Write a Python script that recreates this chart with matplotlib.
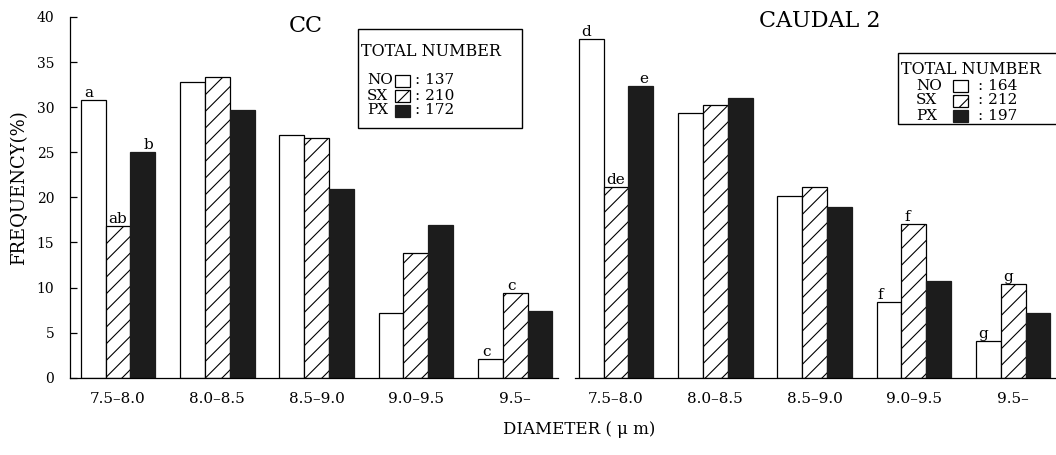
import numpy as np
import matplotlib
matplotlib.use("Agg")
import matplotlib.pyplot as plt
from matplotlib.patches import Rectangle

plt.rcParams['font.family'] = ['DejaVu Serif']
plt.rcParams['hatch.linewidth'] = 0.8

# data
classes = ["7.5–8.0", "8.0–8.5", "8.5–9.0", "9.0–9.5", "9.5–"]
groups = ["NO", "SX", "PX"]

cc_no = [30.8, 32.8, 26.9, 7.2, 2.1]
cc_sx = [16.8, 33.4, 26.6, 13.8, 9.4]
cc_px = [25.0, 29.7, 20.9, 16.9, 7.4]
cc_total = [137, 210, 172]

cd_no = [37.6, 29.4, 20.2, 8.4, 4.1]
cd_sx = [21.2, 30.2, 21.2, 17.1, 10.4]
cd_px = [32.4, 31.0, 18.9, 10.7, 7.2]
cd_total = [164, 212, 197]

# significance letters: (class index, group index, letter, x shift in points)
cc_letters = [(0, 0, "a", -3), (0, 1, "ab", 0), (0, 2, "b", 4),
              (4, 0, "c", -3), (4, 1, "c", -3)]
cd_letters = [(0, 0, "d", -4), (0, 1, "de", 0), (0, 2, "e", 2),
              (3, 0, "f", -6), (3, 1, "f", -5),
              (4, 0, "g", -4), (4, 1, "g", -4)]

W, H = 1056, 455
fig = plt.figure(figsize=(W / 100, H / 100), dpi=100)


def fx(x):
    return x / W


def fy(y):
    return 1 - y / H


styles = [dict(facecolor='white', edgecolor='black'),
          dict(facecolor='white', edgecolor='black', hatch='//'),
          dict(facecolor='#1c1c1c', edgecolor='#1c1c1c')]

bw = 0.25
x = np.arange(len(classes))


def panel(ax, series, letters, xlim, show_y):
    for k, vals in enumerate(series):
        ax.bar(x + (k - 1) * bw, vals, bw, linewidth=0.9, zorder=2, **styles[k])
    for ci, gi, txt, dx in letters:
        ax.annotate(txt, (x[ci] + (gi - 1) * bw, series[gi][ci]),
                    xytext=(dx, 0), textcoords='offset points',
                    ha='center', va='bottom', fontsize=11)
    ax.set_xlim(*xlim)
    ax.set_ylim(0, 40)
    ax.set_xticks(x)
    ax.set_xticklabels(classes, fontsize=11)
    ax.tick_params(axis='x', length=0, pad=10)
    for s in ['top', 'right']:
        ax.spines[s].set_visible(False)
    ax.spines['bottom'].set_linewidth(0.9)
    ax.spines['left'].set_linewidth(0.9)
    if show_y:
        ax.set_yticks(np.arange(0, 41, 5))
        ax.tick_params(axis='y', direction='in', length=5, width=0.9,
                       pad=11, labelsize=10)
    else:
        ax.spines['left'].set_visible(False)
        ax.set_yticks([])


ax1 = fig.add_axes([fx(69.5), fy(377.7), fx(488.5), 360.7 / H])
panel(ax1, [cc_no, cc_sx, cc_px], cc_letters, (-0.488, 4.431), True)

ax2 = fig.add_axes([fx(575), fy(377.7), fx(481), 360.7 / H])
panel(ax2, [cd_no, cd_sx, cd_px], cd_letters, (-0.413, 4.431), False)

fig.text(fx(306), fy(26), "CC", ha='center', va='center', fontsize=16)
fig.text(fx(820), fy(21), "CAUDAL 2", ha='center', va='center', fontsize=16)
fig.text(fx(19.5), fy(188), "FREQUENCY(%)", rotation=90,
         ha='center', va='center', fontsize=13)
fig.text(fx(579), fy(430), "DIAMETER ( μ m)", ha='center', va='center',
         fontsize=12)


def legend_box(x0, y0, x1, y1, title_y, rows_y, lab_x, patch_x, num_x, totals):
    fig.patches.append(Rectangle((fx(x0), fy(y1)), fx(x1 - x0), (y1 - y0) / H,
                                 transform=fig.transFigure, facecolor='white',
                                 edgecolor='black', linewidth=1.0, zorder=5))
    fig.text(fx(x0 + 3), fy(title_y), "TOTAL NUMBER", ha='left',
             va='center', fontsize=11.5, zorder=6)
    for k, (g, n) in enumerate(zip(groups, totals)):
        ry = rows_y + k * 15
        fig.text(fx(lab_x), fy(ry), g, ha='left', va='center', fontsize=11,
                 zorder=6)
        fig.patches.append(Rectangle((fx(patch_x), fy(ry + 6)), fx(15), 12 / H,
                                     transform=fig.transFigure, linewidth=0.9,
                                     zorder=6, **styles[k]))
        fig.text(fx(num_x), fy(ry), f": {n}", ha='left', va='center',
                 fontsize=11, zorder=6)


legend_box(358, 29, 522, 128, 51, 80.5, 367, 395, 415, cc_total)
legend_box(898, 53, 1070, 124, 69, 85.5, 916, 953, 978, cd_total)

fig.savefig("out.png", dpi=100)
